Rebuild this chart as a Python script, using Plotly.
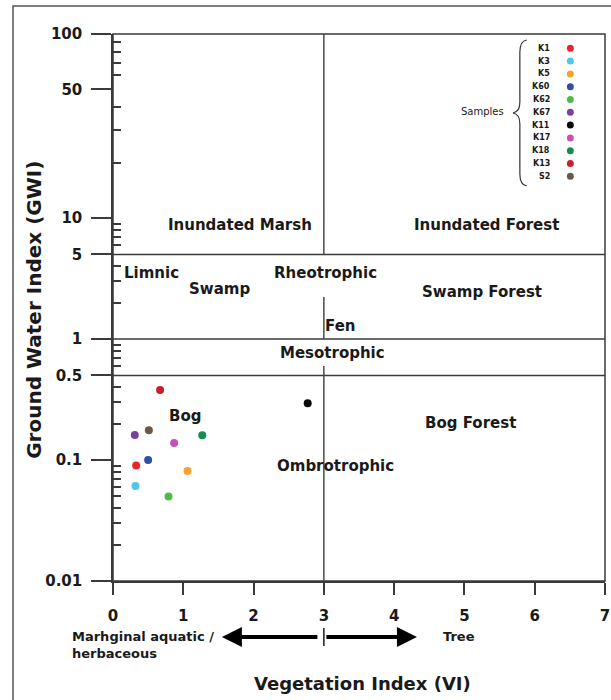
import math
import plotly.graph_objects as go

# ---------------- data ----------------
samples = ["K1", "K3", "K5", "K60", "K62", "K67", "K11", "K17", "K18", "K13", "S2"]
vi = [0.33, 0.32, 1.06, 0.50, 0.79, 0.31, 2.77, 0.87, 1.27, 0.67, 0.51]
gwi = [0.090, 0.061, 0.081, 0.100, 0.050, 0.161, 0.294, 0.138, 0.160, 0.379, 0.176]
colors = ["#e8262a", "#4fc6e6", "#f7a32b", "#2f4ea6", "#4cbb47", "#7b3fa0",
          "#0a0a0a", "#c650b8", "#10904f", "#c81e2e", "#6b5a48"]

x_ticks = [0, 1, 2, 3, 4, 5, 6, 7]
y_ticks_low = [0.01, 0.1, 0.5, 1, 5, 10]
y_ticks_low_text = ["0.01", "0.1", "0.5", "1", "5", "10"]
y_ticks_high = [50, 100]
y_minor_low = [0.02, 0.03, 0.04, 0.05, 0.06, 0.07, 0.08, 0.09,
               0.2, 0.3, 0.4, 0.6, 0.7, 0.8, 0.9,
               2, 3, 4, 6, 7, 8, 9]
y_minor_high = [20, 30, 40, 60, 70, 80, 90]

zone_labels = ["Inundated Marsh", "Inundated Forest", "Limnic", "Swamp", "Rheotrophic",
               "Swamp Forest", "Fen", "Mesotrophic", "Bog", "Bog Forest", "Ombrotrophic"]
zone_x = [1.81, 5.32, 0.55, 1.51, 3.03, 5.25, 3.23, 3.13, 1.03, 5.09, 3.16]
zone_y = [8.7, 8.7, 3.5, 2.6, 3.5, 2.44, 1.28, 0.766, 0.231, 0.202, 0.089]
zone_bounds = [5, 1, 0.5]

# ---------------- layout helpers ----------------
W, H = 611, 700
L, R, T, B = 113, 610, 34, 581          # plot area in px
SPLIT = 218                              # px of GWI = 10


def px(xp):
    return (xp - L) / (R - L)


def py(yp):
    return (B - yp) / (B - T)


FONT = "DejaVu Sans"
INK = "#1a1a1a"
LINE = "#3a3a3a"

fig = go.Figure()
fig.add_trace(go.Scatter(
    x=vi, y=gwi, mode="markers", text=samples,
    marker=dict(color=colors, size=8, line=dict(width=0)),
    xaxis="x", yaxis="y", showlegend=False, hoverinfo="text+x+y"))
fig.add_trace(go.Scatter(x=[], y=[], xaxis="x", yaxis="y2",
                         showlegend=False, hoverinfo="skip"))

split_dom = py(SPLIT)
tickfont = dict(family=FONT, size=15, color=INK, weight=700)

shapes = []
annotations = []


def note(text, x, y, size, bold=True, **kw):
    d = dict(text=text, x=x, y=y, xref="paper", yref="paper", showarrow=False,
             xanchor="center", yanchor="middle",
             font=dict(family=FONT, size=size, color=INK, weight=700 if bold else 400))
    d.update(kw)
    annotations.append(d)


# frame of plot area
shapes.append(dict(type="rect", xref="paper", yref="paper", x0=0, x1=1, y0=0, y1=1,
                   line=dict(color=LINE, width=1.5)))
# outer picture frame
shapes.append(dict(type="rect", xref="paper", yref="paper",
                   x0=px(12), x1=px(620), y0=py(710), y1=py(6),
                   line=dict(color="#555555", width=1.5)))
# zone boundaries
for b in zone_bounds:
    shapes.append(dict(type="line", xref="paper", yref="y", x0=0, x1=1, y0=b, y1=b,
                       line=dict(color=LINE, width=1.5)))
# vertical divider at VI = 3 (broken around labels)
shapes.append(dict(type="line", xref="x", yref="y2", x0=3, x1=3, y0=10, y1=100,
                   line=dict(color="#4a4a4a", width=1.5)))
for y0, y1 in [(5, 10), (1, 2.22), (0.01, 0.598)]:
    shapes.append(dict(type="line", xref="x", yref="y", x0=3, x1=3, y0=y0, y1=y1,
                       line=dict(color="#4a4a4a", width=1.5)))
# small bar between arrows
shapes.append(dict(type="line", xref="x", yref="paper", x0=3, x1=3,
                   y0=py(646), y1=py(628), line=dict(color=INK, width=1.5)))

# zone labels (log axes: annotation y in log10 units)
for t, xx, yy in zip(zone_labels, zone_x, zone_y):
    annotations.append(dict(text=t, x=xx, y=math.log10(yy), xref="x", yref="y",
                            showarrow=False, xanchor="center", yanchor="middle",
                            font=dict(family=FONT, size=15, color=INK, weight=700)))

# axis titles and side texts
note("Ground Water Index (GWI)", px(33), py(310), 20, textangle=-90)
note("Vegetation Index (VI)", px(365), py(683), 18)
note("Marhginal aquatic /<br>herbaceous", px(70), py(645), 13, xanchor="left", align="left")
note("Tree", px(463), py(636), 13)

# arrows
annotations.append(dict(text="", x=px(223), y=py(637), xref="paper", yref="paper",
                        ax=97, ay=0, showarrow=True, arrowhead=2, arrowsize=1,
                        arrowwidth=4, arrowcolor="#000000"))
annotations.append(dict(text="", x=px(420), y=py(637), xref="paper", yref="paper",
                        ax=-92, ay=0, showarrow=True, arrowhead=2, arrowsize=1,
                        arrowwidth=4, arrowcolor="#000000"))

# custom legend
for i, (s, c) in enumerate(zip(samples, colors)):
    yp = 48.3 + i * 12.8
    note(s, px(556), py(yp), 8, xanchor="right")
    shapes.append(dict(type="circle", xref="paper", yref="paper",
                       x0=px(571.5), x1=px(578.5), y0=py(yp + 3.5), y1=py(yp - 3.5),
                       fillcolor=c, line=dict(width=0)))
note("Samples", px(486), py(112), 10, bold=False)
# brace
pts = [("M", 531, 40), ("Q", 524, 41), ("", 524, 52), ("L", 524, 102),
       ("Q", 524, 112), ("", 517, 113), ("Q", 524, 114), ("", 524, 124),
       ("L", 524, 174), ("Q", 524, 185), ("", 531, 186)]
path = " ".join(f"{c} {px(a):.5f},{py(b):.5f}".strip() for c, a, b in pts)
shapes.append(dict(type="path", xref="paper", yref="paper", path=path,
                   line=dict(color="#333333", width=1.2)))

minor_style = dict(tickmode="array", ticks="inside", ticklen=8, tickwidth=1.5,
                   tickcolor=LINE, showgrid=False)

fig.update_layout(
    width=W, height=H,
    margin=dict(l=L, r=W - R, t=T, b=H - B, pad=0),
    paper_bgcolor="white", plot_bgcolor="white",
    showlegend=False,
    xaxis=dict(domain=[0, 1], anchor="y", range=[0, 7], tickvals=x_ticks,
               ticks="outside", ticklen=12, tickwidth=1.5, tickcolor=LINE,
               showline=True, linecolor=LINE, linewidth=1.5,
               showgrid=False, zeroline=False, tickfont=tickfont,
               ticklabelstandoff=8, ticklabeloverflow="allow"),
    yaxis=dict(domain=[0, split_dom], anchor="x", type="log", range=[-2, 1],
               tickvals=y_ticks_low, ticktext=y_ticks_low_text,
               ticks="outside", ticklen=20, tickwidth=1.5, tickcolor=LINE,
               showline=True, linecolor=LINE, linewidth=1.5,
               showgrid=False, zeroline=False, tickfont=tickfont,
               ticklabelstandoff=6,
               minor=dict(tickvals=y_minor_low, **minor_style)),
    yaxis2=dict(domain=[split_dom, 1], anchor="x", type="log", range=[1, 2],
                tickvals=y_ticks_high, ticktext=[str(v) for v in y_ticks_high],
                ticks="outside", ticklen=20, tickwidth=1.5, tickcolor=LINE,
                showline=True, linecolor=LINE, linewidth=1.5,
                showgrid=False, zeroline=False, tickfont=tickfont,
                ticklabelstandoff=6,
                minor=dict(tickvals=y_minor_high, **minor_style)),
    shapes=shapes,
    annotations=annotations,
)

fig.write_html("out.html", config={"displayModeBar": False},
               post_script="document.body.style.margin='0';document.body.style.padding='0';")
